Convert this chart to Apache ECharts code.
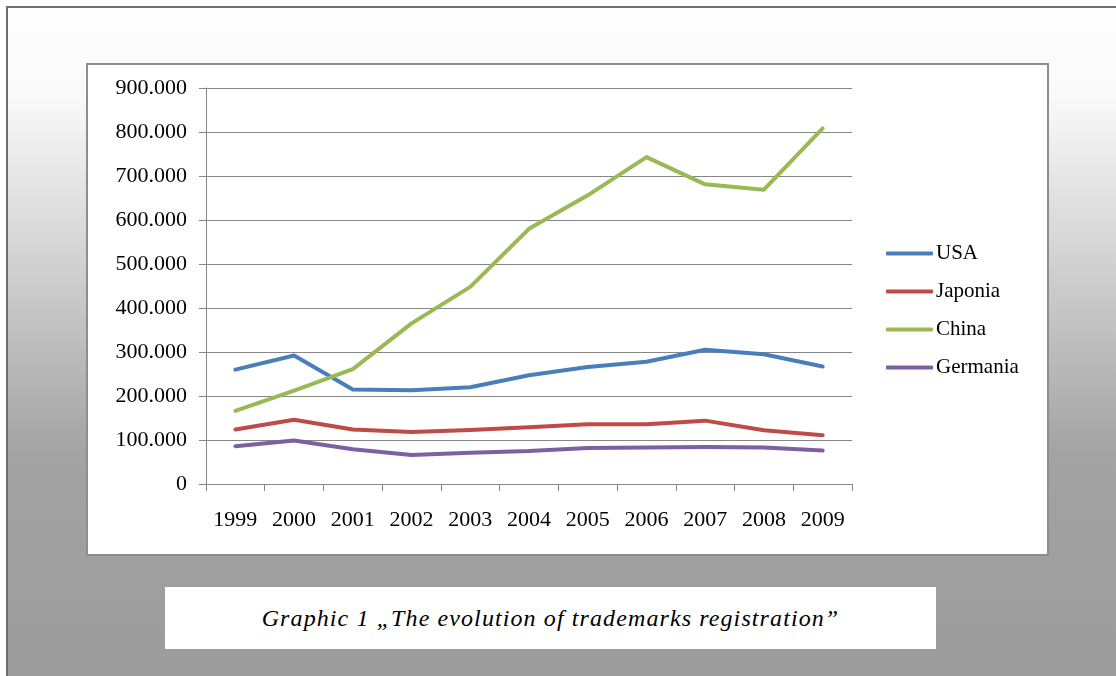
<!DOCTYPE html>
<html>
<head>
<meta charset="utf-8">
<script src="https://cdn.jsdelivr.net/npm/echarts@6/dist/echarts.min.js"></script>
<style>
    html, body { margin: 0; padding: 0; width: 1116px; height: 676px; overflow: hidden; background: #ffffff; }
    #frame {
        position: absolute; left: 6px; top: 6px; width: 1130px; height: 690px;
        border: 2px solid #6f6f6f;
        background: linear-gradient(to bottom, #fefefe 0px, #f9f9f9 90px, #a3a3a3 445px, #9b9b9b 690px);
    }
    #box {
        position: absolute; left: 86px; top: 63px; width: 959px; height: 489px;
        background: #ffffff; border: 2px solid #8e8e8e;
    }
    #caption {
        position: absolute; left: 165px; top: 587px; width: 771px; height: 62px;
        background: #ffffff;
        font-family: "Liberation Serif", serif; font-style: italic; font-size: 24px;
        letter-spacing: 1.1px;
        line-height: 62px; text-align: center; color: #000000;
    }
    #chart { position: absolute; left: 0; top: 0; width: 1116px; height: 676px; }
</style>
</head>
<body>
<div id="frame"></div>
<div id="box"></div>
<div id="caption">Graphic 1 „The evolution of trademarks registration”</div>
<div id="chart"></div>
<script>
//数据
var years = ['1999', '2000', '2001', '2002', '2003', '2004', '2005', '2006', '2007', '2008', '2009'];
var usa      = [260000, 292000, 215000, 213000, 220000, 247000, 266000, 278000, 305000, 295000, 267000];
var japonia  = [124000, 146000, 124000, 118000, 123000, 129000, 136000, 136000, 144000, 122000, 111000];
var china    = [166000, 212000, 261000, 365000, 448000, 580000, 656000, 743000, 681000, 669000, 808000];
var germania = [ 86000,  99000,  79000,  66000,  71000,  75000,  82000,  83000,  84000,  83000,  76000];

var seriesNames = ['USA', 'Japonia', 'China', 'Germania'];
var seriesData = [usa, japonia, china, germania];
var colors = ['#4a7ebb', '#be4b48', '#98b954', '#7d60a0'];

var font = '"Liberation Serif", "Times New Roman", serif';

//千位用点号分隔
function fmt(v) {
    return String(v).replace(/\B(?=(\d{3})+(?!\d))/g, '.');
}

var chart = echarts.init(document.getElementById('chart'));

var series = [];
for (var i = 0; i < seriesNames.length; i++) {
    series.push({
        name: seriesNames[i],
        type: 'line',
        data: seriesData[i],
        symbol: 'none',
        smooth: false,
        lineStyle: { width: 4, color: colors[i], cap: 'round', join: 'round' },
        itemStyle: { color: colors[i] }
    });
}

var option = {
    animation: false,
    backgroundColor: 'transparent',
    grid: { left: 206, top: 88, width: 646, height: 396, containLabel: false },
    legend: {
        orient: 'vertical',
        left: 881,
        top: 238,
        icon: 'roundRect',
        itemWidth: 47,
        itemHeight: 4,
        itemGap: 17,
        textStyle: { fontFamily: font, fontSize: 21, lineHeight: 21, color: '#000000', padding: [0, 0, 0, -2] },
        data: seriesNames
    },
    xAxis: {
        type: 'category',
        data: years,
        boundaryGap: true,
        axisLine: { lineStyle: { color: '#868686', width: 1 } },
        axisTick: { show: true, length: 7, lineStyle: { color: '#868686' } },
        axisLabel: { fontFamily: font, fontSize: 22, color: '#000000', margin: 25, interval: 0 }
    },
    yAxis: {
        type: 'value',
        min: 0,
        max: 900000,
        interval: 100000,
        axisLine: { show: true, lineStyle: { color: '#868686', width: 1 } },
        axisTick: { show: true, length: 7, lineStyle: { color: '#868686' } },
        splitLine: { show: true, lineStyle: { color: '#868686', width: 1 } },
        axisLabel: {
            fontFamily: font, fontSize: 22, color: '#000000', margin: 19,
            formatter: function (v) { return fmt(v); }
        }
    },
    series: series
};

chart.setOption(option);
</script>
</body>
</html>
